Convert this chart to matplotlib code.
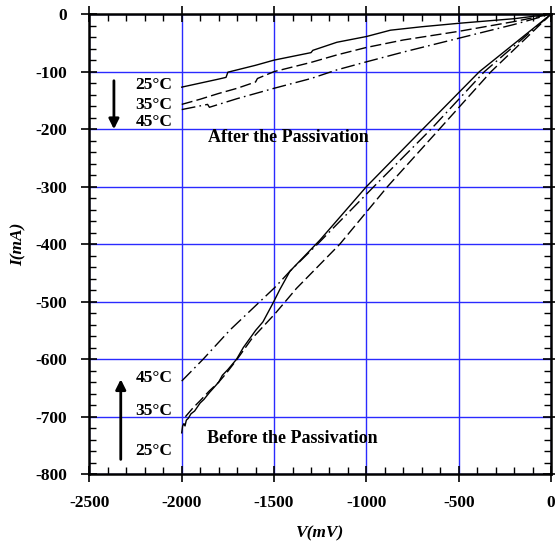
import matplotlib
matplotlib.use("Agg")
import matplotlib.pyplot as plt
from matplotlib.ticker import MultipleLocator

plt.rcParams["font.family"] = ["Liberation Serif", "DejaVu Serif"]
plt.rcParams["font.weight"] = "bold"
plt.rcParams["axes.unicode_minus"] = False

# after the passivation (V in mV, I in mA)
after_25_v = [-2000, -1900, -1800, -1760, -1750, -1600, -1500, -1300, -1290, -1160, -1000, -870, -700, -500, -200, 0]
after_25_i = [-127, -120, -113, -110, -101, -89, -80, -67, -63, -49, -39, -28, -22, -16, -8, 0]
after_35_v = [-2000, -1900, -1800, -1700, -1600, -1590, -1500, -1300, -1160, -1000, -800, -500, -200, 0]
after_35_i = [-157, -148, -138, -129, -118, -112, -100, -84, -71, -58, -45, -30, -13, 0]
after_45_v = [-2000, -1860, -1850, -1700, -1500, -1300, -1160, -1000, -800, -500, -200, 0]
after_45_i = [-166, -157, -162, -147, -129, -112, -97, -83, -66, -42, -18, 0]

# before the passivation
before_25_v = [-2000, -1995, -1988, -1982, -1975, -1965, -1950, -1930, -1900, -1880, -1850,
               -1800, -1780, -1750, -1703, -1667, -1600, -1560, -1505, -1469, -1414, -1252,
               -1000, -695, -388, 0]
before_25_i = [-728, -716, -712, -716, -706, -703, -695, -690, -676, -670, -658,
               -640, -628, -618, -600, -580, -550, -535, -502, -479, -447, -393,
               -300, -200, -100, 0]
before_35_v = [-1980, -1940, -1900, -1850, -1800, -1760, -1700, -1622, -1495, -1379,
               -1144, -886, -605, -325, 0]
before_35_i = [-700, -685, -672, -655, -640, -625, -600, -565, -521, -477,
               -400, -300, -200, -100, 0]
before_45_v = [-2000, -1884, -1738, -1495, -1414, -1265, -960, -650, -361, 0]
before_45_i = [-638, -600, -549, -475, -447, -400, -300, -200, -100, 0]

x_ticks = [-2500, -2000, -1500, -1000, -500, 0]
y_ticks = [-800, -700, -600, -500, -400, -300, -200, -100, 0]

fig = plt.figure(figsize=(5.55, 5.42), dpi=100)
ax = fig.add_axes([0.161, 0.125, 0.832, 0.849])

dash = (0, (8, 3))
dashdot = (0, (10, 3, 1.2, 3))
for v, i, ls in [(after_25_v, after_25_i, "-"), (after_35_v, after_35_i, dash),
                 (after_45_v, after_45_i, dashdot), (before_25_v, before_25_i, "-"),
                 (before_35_v, before_35_i, dash), (before_45_v, before_45_i, dashdot)]:
    ax.plot(v, i, color="black", linestyle=ls, linewidth=1.0, zorder=3)

ax.set_xlim(-2500, 0)
ax.set_ylim(-800, 0)
ax.set_xticks(x_ticks)
ax.set_yticks(y_ticks)
ax.xaxis.set_minor_locator(MultipleLocator(100))
ax.yaxis.set_minor_locator(MultipleLocator(20))
ax.grid(True, which="major", color="#2a2aff", linewidth=1.0, zorder=1)
ax.set_axisbelow(True)
ax.tick_params(which="major", direction="inout", length=12, width=1.2,
               top=True, right=True, labelsize=12.5)
ax.tick_params(axis="x", which="major", pad=9)
ax.tick_params(axis="y", which="major", pad=10)
ax.tick_params(which="minor", direction="in", length=5, width=1.0, top=True, right=True)
for lbl in ax.get_xticklabels() + ax.get_yticklabels():
    lbl.set_fontweight("bold")
for sp in ax.spines.values():
    sp.set_linewidth(1.8)

ax.set_xlabel("V(mV)", fontsize=12.5, fontstyle="italic", fontweight="bold", labelpad=10)
ax.set_ylabel("I(mA)", fontsize=12.5, fontstyle="italic", fontweight="bold", labelpad=6)

# temperature labels and arrows
for txt, y in [("25°C", -124), ("35°C", -158), ("45°C", -187)]:
    ax.text(-2050, y, txt, fontsize=12.5, fontweight="bold", ha="right", va="center")
ax.annotate("", xy=(-2367, -205), xytext=(-2367, -111),
            arrowprops=dict(arrowstyle="-|>", color="black", lw=2, mutation_scale=15))
for txt, y in [("45°C", -632), ("35°C", -690), ("25°C", -760)]:
    ax.text(-2050, y, txt, fontsize=12.5, fontweight="bold", ha="right", va="center")
ax.annotate("", xy=(-2330, -630), xytext=(-2330, -779),
            arrowprops=dict(arrowstyle="-|>", color="black", lw=2, mutation_scale=15))

ax.text(-1425, -215, "After the Passivation", fontsize=13, fontweight="bold",
        ha="center", va="center")
ax.text(-1400, -738, "Before the Passivation", fontsize=13, fontweight="bold",
        ha="center", va="center")

fig.savefig("out.png", dpi=100)
